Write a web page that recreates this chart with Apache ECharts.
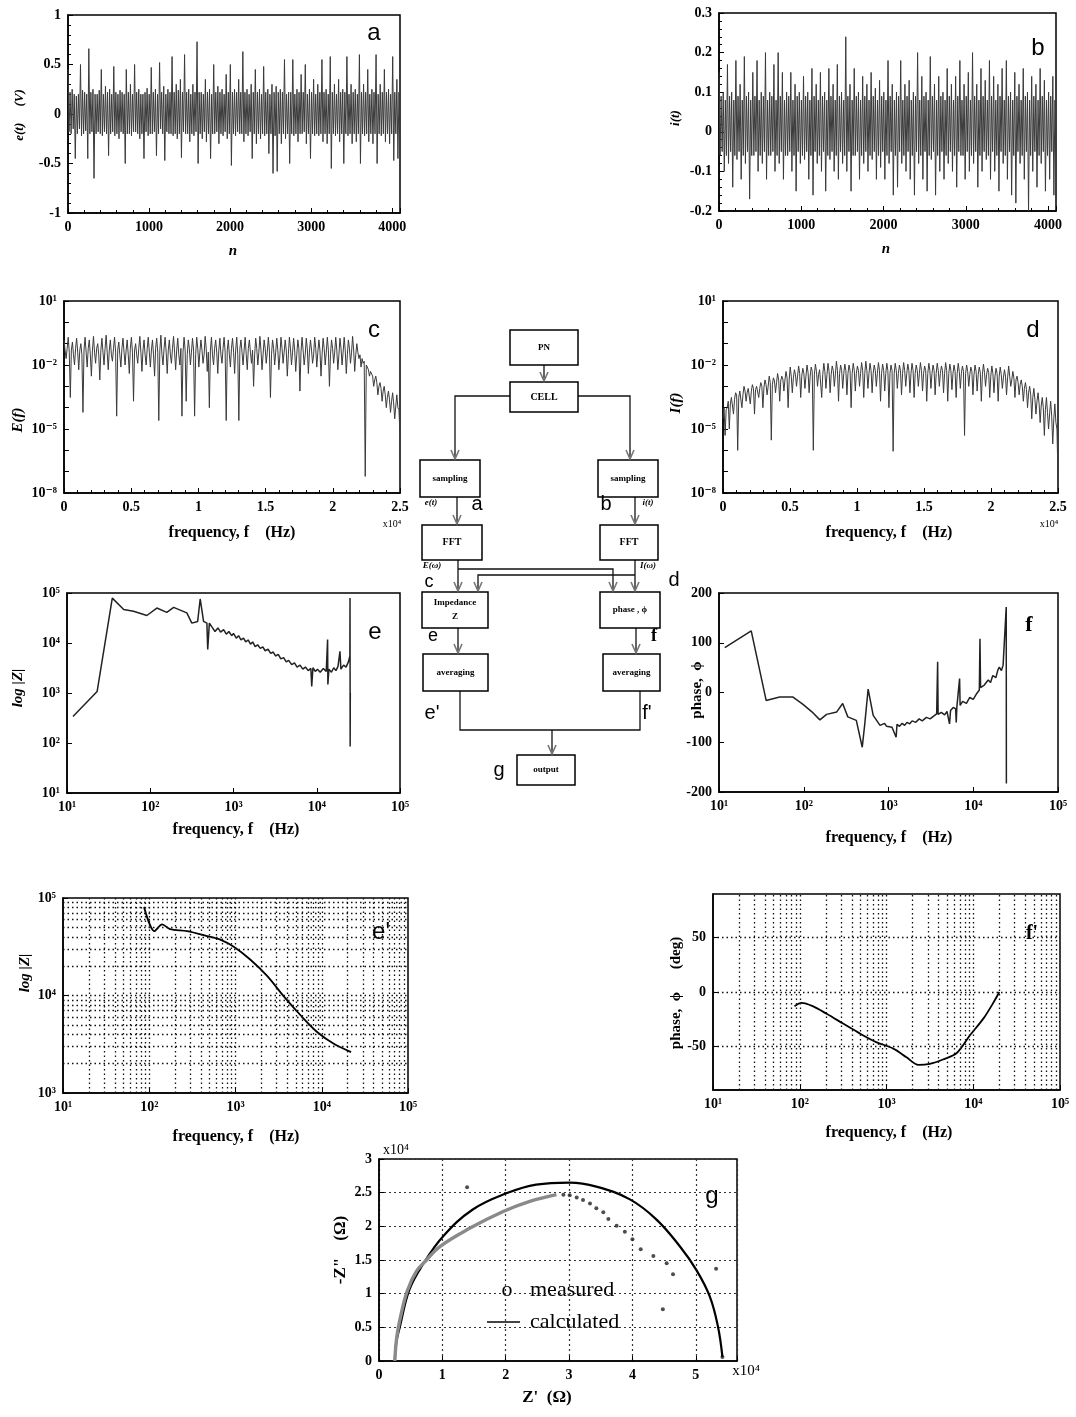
<!DOCTYPE html>
<html><head><meta charset="utf-8">
<script src="https://cdn.jsdelivr.net/npm/echarts@6/dist/echarts.min.js"></script>
<style>html,body{margin:0;padding:0;background:#fff}#c{width:1076px;height:1417px}</style>
</head><body><div id="c"></div><script>
// ---------------- DATA ----------------
const nMax = 4096;
// a: e(t) (V), samples evenly spread over n = 0..4096
const eT = [
0.45,-0.18,0.22,-0.2,0.25,-0.15,0.2,-0.45,0.18,-0.2,0.2,-0.15,0.5,-0.22,0.24,-0.2,0.22,-0.17,0.2,-0.45,
0.66,-0.2,0.22,-0.18,0.25,-0.65,0.2,-0.2,0.2,-0.18,0.24,-0.2,0.45,-0.22,0.2,-0.18,0.28,-0.2,0.22,-0.42,
0.25,-0.2,0.2,-0.18,0.48,-0.22,0.22,-0.2,0.2,-0.25,0.24,-0.18,0.22,-0.2,0.2,-0.5,0.45,-0.2,0.22,-0.2,
0.3,-0.22,0.2,-0.18,0.5,-0.18,0.22,-0.2,0.25,-0.25,0.2,-0.2,0.2,-0.45,0.22,-0.18,0.26,-0.22,0.2,-0.2,
0.47,-0.2,0.22,-0.18,0.25,-0.42,0.2,-0.2,0.52,-0.15,0.22,-0.2,0.28,-0.47,0.2,-0.18,0.25,-0.2,0.22,-0.2,
0.58,-0.22,0.22,-0.2,0.3,-0.25,0.24,-0.2,0.35,-0.44,0.22,-0.18,0.6,-0.2,0.22,-0.2,0.25,-0.28,0.2,-0.2,
0.3,-0.22,0.22,-0.18,0.73,-0.5,0.22,-0.2,0.22,-0.25,0.2,-0.18,0.35,-0.28,0.22,-0.2,0.25,-0.45,0.2,-0.2,
0.5,-0.2,0.22,-0.18,0.28,-0.3,0.22,-0.2,0.25,-0.22,0.2,-0.18,0.4,-0.25,0.22,-0.2,0.5,-0.52,0.22,-0.2,
0.25,-0.22,0.22,-0.18,0.35,-0.2,0.22,-0.2,0.63,-0.28,0.22,-0.2,0.25,-0.22,0.2,-0.18,0.3,-0.45,0.22,-0.2,
0.45,-0.3,0.22,-0.2,0.25,-0.25,0.2,-0.2,0.48,-0.22,0.22,-0.2,0.25,-0.4,0.2,-0.2,0.3,-0.6,0.22,-0.22,
0.28,-0.58,0.22,-0.2,0.25,-0.3,0.22,-0.2,0.55,-0.25,0.2,-0.2,0.22,-0.5,0.22,-0.2,0.55,-0.22,0.2,-0.2,
0.25,-0.28,0.22,-0.2,0.4,-0.2,0.22,-0.18,0.5,-0.3,0.2,-0.2,0.25,-0.45,0.22,-0.2,0.35,-0.22,0.2,-0.2,
0.3,-0.22,0.22,-0.2,0.55,-0.28,0.22,-0.2,0.25,-0.3,0.2,-0.2,0.58,-0.55,0.22,-0.2,0.3,-0.22,0.2,-0.2,
0.35,-0.28,0.22,-0.2,0.25,-0.5,0.22,-0.2,0.58,-0.22,0.2,-0.2,0.3,-0.3,0.22,-0.2,0.25,-0.28,0.2,-0.2,
0.6,-0.5,0.22,-0.2,0.3,-0.22,0.22,-0.2,0.45,-0.28,0.2,-0.2,0.25,-0.3,0.22,-0.2,0.6,-0.5,0.2,-0.2,
0.3,-0.22,0.22,-0.2,0.45,-0.28,0.22,-0.2,0.25,-0.3,0.2,-0.2,0.58,-0.47,0.22,-0.2,0.35,-0.45,0.22,-0.2];
// b: i(t)
const iT = [
0.15,-0.06,0.09,-0.05,0.1,-0.1,0.08,-0.06,0.17,-0.08,0.09,-0.05,0.1,-0.14,0.08,-0.06,0.18,-0.07,0.09,-0.05,
0.12,-0.12,0.08,-0.06,0.19,-0.08,0.09,-0.05,0.1,-0.17,0.08,-0.06,0.15,-0.06,0.09,-0.05,0.18,-0.1,0.08,-0.06,
0.1,-0.08,0.09,-0.05,0.2,-0.12,0.08,-0.06,0.1,-0.06,0.09,-0.05,0.17,-0.1,0.08,-0.06,0.2,-0.08,0.09,-0.05,
0.15,-0.12,0.08,-0.06,0.1,-0.06,0.09,-0.05,0.15,-0.1,0.08,-0.06,0.12,-0.15,0.09,-0.05,0.1,-0.08,0.08,-0.06,
0.14,-0.07,0.09,-0.05,0.1,-0.12,0.08,-0.06,0.16,-0.16,0.09,-0.05,0.12,-0.08,0.08,-0.06,0.15,-0.1,0.09,-0.05,
0.1,-0.15,0.08,-0.06,0.16,-0.07,0.09,-0.05,0.12,-0.1,0.08,-0.06,0.17,-0.12,0.09,-0.05,0.1,-0.08,0.08,-0.06,
0.24,-0.1,0.09,-0.05,0.12,-0.15,0.08,-0.06,0.16,-0.06,0.09,-0.05,0.1,-0.12,0.08,-0.06,0.14,-0.08,0.09,-0.05,
0.12,-0.1,0.08,-0.06,0.15,-0.07,0.09,-0.05,0.11,-0.12,0.08,-0.06,0.13,-0.09,0.09,-0.05,0.1,-0.12,0.08,-0.06,
0.18,-0.08,0.09,-0.05,0.12,-0.16,0.08,-0.06,0.1,-0.14,0.09,-0.05,0.18,-0.08,0.08,-0.06,0.12,-0.1,0.09,-0.05,
0.13,-0.12,0.08,-0.06,0.1,-0.16,0.09,-0.05,0.2,-0.08,0.08,-0.06,0.14,-0.12,0.09,-0.05,0.1,-0.15,0.08,-0.06,
0.19,-0.07,0.09,-0.05,0.12,-0.16,0.08,-0.06,0.14,-0.1,0.09,-0.05,0.1,-0.12,0.08,-0.06,0.16,-0.08,0.09,-0.05,
0.12,-0.1,0.08,-0.06,0.14,-0.14,0.09,-0.05,0.18,-0.06,0.08,-0.06,0.12,-0.12,0.09,-0.05,0.15,-0.1,0.08,-0.06,
0.2,-0.08,0.09,-0.05,0.12,-0.14,0.08,-0.06,0.16,-0.1,0.09,-0.05,0.13,-0.07,0.08,-0.06,0.18,-0.12,0.09,-0.05,
0.14,-0.1,0.08,-0.06,0.12,-0.15,0.09,-0.05,0.16,-0.08,0.08,-0.06,0.18,-0.12,0.09,-0.05,0.1,-0.16,0.08,-0.06,
0.15,-0.18,0.09,-0.05,0.12,-0.08,0.08,-0.06,0.16,-0.12,0.09,-0.05,0.1,-0.2,0.08,-0.06,0.14,-0.1,0.09,-0.05,
0.12,-0.14,0.08,-0.06,0.16,-0.08,0.09,-0.05,0.13,-0.15,0.08,-0.06,0.1,-0.12,0.09,-0.05,0.14,-0.16,0.08,-0.06];
const fSpecMax = 25000;
// c: |E(f)|, evenly spread over 0..25000 Hz
const Ef = [
0.15,0.05,0.02,0.06,0.2,0.04,3e-4,0.05,0.12,0.03,0.01,0.06,0.18,0.04,0.006,0.05,0.1,0.03,6e-5,0.05,
0.2,0.04,0.008,0.06,0.15,0.03,0.003,0.05,0.22,0.04,0.012,0.06,0.1,0.03,0.002,0.05,0.18,0.04,0.01,0.06,
0.25,0.04,0.006,0.05,0.15,0.03,0.015,0.06,0.2,0.04,4e-5,0.05,0.12,0.03,0.008,0.06,0.18,0.04,0.01,0.05,
0.15,0.03,0.004,0.06,0.2,0.04,2e-4,0.05,0.1,0.03,0.012,0.06,0.22,0.04,0.005,0.05,0.15,0.03,0.01,0.06,
0.2,0.04,0.008,0.05,0.15,0.03,0.003,0.06,0.18,0.04,2.5e-5,0.05,0.25,0.03,0.01,0.06,0.2,0.04,0.004,0.05,
0.15,0.03,0.012,0.06,0.22,0.04,0.006,0.05,0.18,0.03,0.01,0.06,4e-5,0.04,0.2,0.05,2e-4,0.03,0.15,0.06,
0.01,0.04,0.18,0.05,4e-5,0.03,0.2,0.06,0.008,0.04,0.15,0.05,0.012,0.03,0.22,0.06,0.005,0.04,1e-4,0.05,
0.2,0.03,0.01,0.06,0.15,0.04,0.004,0.05,0.18,0.03,0.012,0.06,0.2,0.04,2.5e-5,0.05,0.15,0.03,0.008,0.06,
0.18,0.04,0.004,0.05,0.2,0.03,2.5e-5,0.06,0.15,0.04,0.01,0.05,0.2,0.03,0.006,0.06,0.15,0.04,0.012,0.05,
0.001,0.03,0.18,0.06,0.01,0.04,0.22,0.05,0.006,0.03,0.15,0.06,0.012,0.04,0.2,0.05,3e-4,0.03,0.15,0.06,
0.01,0.04,0.18,0.05,0.006,0.03,0.2,0.06,0.012,0.04,0.15,0.05,0.003,0.03,0.2,0.06,0.01,0.04,0.18,0.05,
0.005,0.03,0.15,0.06,6e-4,0.04,0.2,0.05,0.01,0.03,0.18,0.06,0.004,0.04,0.15,0.05,0.012,0.03,0.2,0.06,
0.008,0.04,0.15,0.05,0.003,0.03,0.18,0.06,0.01,0.04,0.2,0.05,0.001,0.03,0.15,0.06,0.012,0.04,0.2,0.05,
0.006,0.03,0.18,0.06,0.01,0.04,0.2,0.05,0.004,0.03,0.15,0.06,0.012,0.04,0.22,0.05,0.005,0.03,0.1,0.04,
0.02,0.03,0.008,0.02,0.012,0.015,6e-8,0.01,0.008,0.006,0.003,0.005,0.005,0.003,0.001,0.002,0.003,0.0015,4e-4,0.001,
0.0015,8e-4,2e-4,6e-4,0.001,4e-4,1e-4,3e-4,6e-4,2.5e-4,6e-5,2e-4,5e-4,1.5e-4,3e-5,1.2e-4,4e-4,1e-4,8e-5,5e-6];
// d: |I(f)|
const If = [
3e-5,1e-4,5e-6,8e-5,1e-4,2e-4,1e-5,1.5e-4,3e-4,3e-4,5e-5,2.5e-4,5e-4,4e-4,1e-6,3e-4,6e-4,5e-4,1e-4,4e-4,
1e-3,6e-4,2e-4,5e-4,8e-4,7e-4,1.5e-4,6e-4,1.2e-3,8e-4,5e-5,7e-4,1e-3,9e-4,3e-4,8e-4,1.5e-3,1e-3,1e-4,9e-4,
2e-3,1.2e-3,4e-4,1e-3,3e-3,1.5e-3,3e-6,1.2e-3,2.5e-3,1.8e-3,5e-4,1.5e-3,4e-3,2e-3,2e-4,1.8e-3,3e-3,2.2e-3,6e-4,2e-3,
5e-3,2.5e-3,1e-4,2e-3,8e-3,3e-3,5e-4,2.5e-3,6e-3,3.5e-3,1e-3,3e-3,9e-3,4e-3,3e-4,3e-3,7e-3,4e-3,8e-4,3e-3,
1e-2,4.5e-3,5e-4,3e-3,8e-3,5e-3,1e-6,3.5e-3,1.1e-2,5e-3,1e-3,3.5e-3,6e-3,5e-3,3e-4,3.5e-3,1.2e-2,5e-3,8e-4,3.5e-3,
1.2e-2,5e-3,5e-4,3.5e-3,9e-3,5.5e-3,1e-3,3.5e-3,1.5e-2,5.5e-3,2e-4,4e-3,1e-2,5.5e-3,8e-4,4e-3,1.1e-2,5.5e-3,4e-4,4e-3,
1e-2,5.5e-3,1e-4,4e-3,1.2e-2,5.5e-3,6e-4,4e-3,9e-3,5.5e-3,1e-3,4e-3,1.3e-2,5.5e-3,3e-4,4e-3,1.5e-2,5.5e-3,8e-4,4e-3,
1.2e-2,5.5e-3,5e-4,4e-3,1e-2,5.5e-3,1e-3,4e-3,1.3e-2,5.5e-3,2e-4,4e-3,1.1e-2,5.5e-3,6e-4,4e-3,1.2e-2,5.5e-3,1e-4,4e-3,
1e-2,5.5e-3,9e-7,4e-3,1.2e-2,5.5e-3,8e-4,4e-3,1e-2,5.5e-3,4e-4,4e-3,1.3e-2,5.5e-3,1e-3,4e-3,1.1e-2,5.5e-3,5e-4,4e-3,
1.2e-2,5.5e-3,3e-4,4e-3,1e-2,5.5e-3,1e-3,4e-3,1.3e-2,5.5e-3,6e-4,4e-3,9e-3,5.5e-3,2e-4,4e-3,1.2e-2,5.5e-3,8e-4,4e-3,
1e-2,5.5e-3,4e-4,4e-3,1.2e-2,5.5e-3,1e-3,4e-3,9e-3,5.5e-3,5e-4,4e-3,1.3e-2,5.5e-3,2e-4,4e-3,1.1e-2,5.5e-3,7e-4,4e-3,
1e-2,5e-3,3e-4,4e-3,1.2e-2,5e-3,8e-4,4e-3,9e-3,5e-3,5e-6,4e-3,1e-2,5e-3,1e-3,3.5e-3,8e-3,5e-3,4e-4,3.5e-3,
1e-2,5e-3,6e-4,3.5e-3,8e-3,4.5e-3,2e-4,3.5e-3,1.1e-2,4.5e-3,1e-3,3.5e-3,7e-3,4.5e-3,3e-4,3e-3,9e-3,4e-3,5e-4,3e-3,
7e-3,4e-3,2e-4,3e-3,8e-3,3.5e-3,8e-4,2.5e-3,6e-3,3e-3,4e-4,2.5e-3,9e-3,3e-3,1e-3,2e-3,5e-3,2.5e-3,3e-4,2e-3,
3e-3,1.5e-3,4e-4,1.2e-3,2e-3,1e-3,2e-4,8e-4,1.5e-3,7e-4,1e-4,5e-4,1e-3,4e-4,3e-5,3e-4,8e-4,2.5e-4,5e-5,2e-4,
5e-4,1.5e-4,2e-5,1.2e-4,3e-4,1e-4,5e-6,8e-5,3e-4,6e-5,1e-5,5e-5,2e-4,4e-5,2e-6,3e-5,1.5e-4,2e-5,1e-5,5e-8];
// e: |Z| vs f [Hz, ohm]
const zRaw = [[11.8,340],[23,1070],[35,79000],[48,46800],[63,43000],[91,35500],[120,50000],[158,41000],[191,51700],[275,40000],[316,25000],[371,27000],[398,76000],[437,27000],[479,25000],[490,7400],[513,25000],
[550,21000],[600,17000],[650,20000],[700,16500],[760,18500],[820,15000],[880,17000],[950,14000],[1000,15500],[1080,12500],[1150,14000],[1230,11500],[1320,12500],[1400,10500],[1500,11500],[1600,9500],[1700,10500],[1820,8500],[1950,9200],[2100,7800],[2250,8400],[2400,7000],[2600,7500],[2800,6200],[3000,6600],[3200,5500],[3450,5900],[3700,4800],[4000,5100],[4300,4200],[4600,4500],[5000,3700],[5400,4000],[5800,3300],[6300,3600],[6800,3000],[7300,3300],[7900,2800],[8500,3100],[8700,1350],[9000,3200],[9600,2700],[10200,3000],[11000,2600],[12000,3100],[13000,2700],[13500,11700],[13600,1480],[14000,3000],[15000,2600],[16000,3200],[17000,2800],[18000,3400],[19000,6800],[19500,3000],[21000,3600],[22500,3300],[24000,4200],[25000,5500],[25100,79000],[25200,85],[25300,1000]];
// f: phase vs f [Hz, deg]
const phRaw = [[11.7,90],[24,124],[36,-16],[52,-9],[74,-9],[98,-24],[129,-41],[155,-55],[186,-44],[245,-39],[288,-22],[331,-49],[417,-56],[490,-110],[525,-63],[575,7],[660,-46],[794,-66],[900,-62],[950,-68],[1000,-65],[1100,-70],[1230,-90],[1260,-64],[1350,-68],[1450,-62],[1550,-66],[1650,-60],[1780,-63],[1900,-57],[2100,-60],[2300,-53],[2500,-57],[2800,-50],[3100,-53],[3500,-46],[3700,-43],[3800,62],[3850,-44],[4200,-40],[4600,-45],[4900,-38],[5250,-63],[5400,-36],[5800,-30],[6200,-33],[6300,-60],[6400,-30],[6900,28],[7000,-26],[7500,-18],[8300,-22],[9100,-10],[10000,-14],[11000,-2],[11800,5],[12000,108],[12200,10],[13500,15],[15000,25],[16000,20],[17000,34],[18500,30],[19500,45],[20300,51],[21500,44],[22500,55],[24500,172],[24600,-183]];
// e': averaged |Z|
const zAvg = [[87,81000],[115,45700],[141,53700],[174,47900],[275,45700],[468,40700],[676,37200],[955,31600],[1480,23400],[2340,15800],[3630,9800],[5750,6200],[8910,4200],[14100,3160],[21900,2630]];
// f': averaged phase
const phAvg = [[87,-13],[105,-10],[141,-13],[204,-20],[316,-29],[490,-38],[759,-46],[1200,-52],[1700,-60],[2340,-67],[3160,-66],[4470,-62],[6460,-56],[9120,-40],[13200,-24],[17000,-10],[20000,0]];
// g: Nyquist [Z', -Z''] in ohm
const nyqCalc = [[2500,0],[2700,2600],[3300,5100],[4800,10600],[6900,14300],[10100,18500],[14800,22500],[20100,24900],[24800,26200],[30100,26500],[34300,25900],[39600,24000],[43800,21000],[47500,17000],[50100,13500],[52200,9600],[53500,5100],[54200,600]];
const nyqMeasDense = [[2500,0],[2800,3500],[3500,7000],[4500,10500],[5900,13300],[7500,15000],[9600,17000],[14300,19700],[19600,22200],[23800,23700],[28000,24700]];
const nyqMeasDots = [[29100,24700],[30100,24600],[31200,24300],[32200,23900],[33300,23400],[34300,22700],[35400,22100],[36200,21100],[37500,20100],[38800,19200],[40000,18100],[41300,16600],[43300,15600],[45400,14500],[46400,12900],[44800,7700],[53200,13700],[54200,600],[13900,25800]];
// tick label lists
const specXLabels = ['0','0.5','1','1.5','2','2.5'];
const specYExps = [1,-2,-5,-8];
const logGridVals = [20,30,40,50,60,70,80,90,100,200,300,400,500,600,700,800,900,1000,2000,3000,4000,5000,6000,7000,8000,9000,10000,20000,30000,40000,50000,60000,70000,80000,90000];
const zAvgGridY = [2000,3000,4000,5000,6000,7000,8000,9000,10000,20000,30000,40000,50000,60000,70000,80000,90000];
const phAvgTicks = [-50,0,50];

// ---------------- HELPERS ----------------
const SERIF = '"Liberation Serif","DejaVu Serif",serif';
const SANS = '"Liberation Sans",Arial,sans-serif';
const SUP = {'-':'⁻','0':'⁰','1':'¹','2':'²','3':'³','4':'⁴','5':'⁵','6':'⁶','7':'⁷','8':'⁸','9':'⁹'};
function pow10(v){const e=Math.round(Math.log10(v));return '10'+String(e).split('').map(c=>SUP[c]).join('');}
function ax(gi, o, fmt, extra){
  const a = {gridIndex:gi, axisLine:{onZero:false, lineStyle:{color:'#000', width:1.5}},
    axisTick:{inside:true, length:5, lineStyle:{color:'#000'}},
    axisLabel:{color:'#000', fontFamily:SERIF, fontWeight:'bold', fontSize:14, margin:7, hideOverlap:false, showMinLabel:true, showMaxLabel:true},
    splitLine:{show:false}};
  if (fmt) a.axisLabel.formatter = fmt;
  Object.assign(a, o);
  if (extra) for (const k in extra) a[k] = Object.assign({}, a[k]||{}, extra[k]);
  return a;
}
const spread = (arr, max) => arr.map((v,i)=>[i*max/(arr.length-1), v]);
function txt(x,y,text,font,o){
  return Object.assign({type:'text', x, y, style:{text, font, fill:'#000', textAlign:'center', textVerticalAlign:'middle', align:'center', verticalAlign:'middle'}}, o||{});
}
function rtxt(x,y,text,font){ return txt(x,y,text,font,{rotation:Math.PI/2}); }

const grids = [
 {left:68, top:15, width:332, height:198},
 {left:719, top:13, width:337, height:198},
 {left:64, top:301, width:336, height:192},
 {left:723, top:301, width:335, height:192},
 {left:67, top:593, width:333, height:200},
 {left:719, top:593, width:339, height:199},
 {left:63, top:898, width:345, height:195},
 {left:713, top:894, width:347, height:196},
 {left:379, top:1159, width:358, height:202}
].map(g=>Object.assign({show:true, borderColor:'#000', borderWidth:1.5, outerBoundsMode:'none', containLabel:false}, g));

const num1 = v => String(Number(v.toFixed(2)));
const minor5 = {minorTick:{show:true, splitNumber:5, length:3, lineStyle:{color:'#000'}}};
const xAxes = [
 ax(0,{type:'value',min:0,max:nMax,interval:1000}, v=> v%1000===0? String(v):'', minor5),
 ax(1,{type:'value',min:0,max:nMax,interval:1000}, v=> v%1000===0? String(v):'', minor5),
 ax(2,{type:'value',min:0,max:fSpecMax,interval:5000}, v=> specXLabels[Math.round(v/5000)], minor5),
 ax(3,{type:'value',min:0,max:fSpecMax,interval:5000}, v=> specXLabels[Math.round(v/5000)], minor5),
 ax(4,{type:'log',logBase:10,min:10,max:1e5}, pow10),
 ax(5,{type:'log',logBase:10,min:10,max:1e5}, pow10),
 ax(6,{type:'log',logBase:10,min:10,max:1e5}, pow10),
 ax(7,{type:'log',logBase:10,min:10,max:1e5}, pow10),
 ax(8,{type:'value',min:0,max:56500,interval:10000}, v=> v%10000===0? String(v/10000):'',
    {splitLine:{show:true, lineStyle:{type:[2,3], color:'#333', width:1.2}}})
];
const yAxes = [
 ax(0,{type:'value',min:-1,max:1,interval:0.5}, num1, minor5),
 ax(1,{type:'value',min:-0.2,max:0.3,interval:0.1}, num1, minor5),
 ax(2,{type:'log',logBase:10,min:1e-8,max:10}, v=> specYExps.includes(Math.round(Math.log10(v)))? pow10(v):''),
 ax(3,{type:'log',logBase:10,min:1e-8,max:10}, v=> specYExps.includes(Math.round(Math.log10(v)))? pow10(v):''),
 ax(4,{type:'log',logBase:10,min:10,max:1e5}, pow10),
 ax(5,{type:'value',min:-200,max:200,interval:100}, v=>String(v)),
 ax(6,{type:'log',logBase:10,min:1000,max:1e5}, pow10),
 ax(7,{type:'value',min:-90,max:90}, v=>String(v), {axisLabel:{customValues:phAvgTicks}, axisTick:{customValues:phAvgTicks}}),
 ax(8,{type:'value',min:0,max:30000,interval:5000}, v=> num1(v/10000),
    {splitLine:{show:true, lineStyle:{type:[2,3], color:'#333', width:1.2}}})
];

const dotLine = {type:[1.5,3], color:'#111', width:1.3};
function ln(i, data, color, width, extra){
  return Object.assign({type:'line', xAxisIndex:i, yAxisIndex:i, data, showSymbol:false, symbol:'none', sampling:null,
    lineStyle:{color, width}, animation:false, silent:true, z:3}, extra||{});
}
const series = [
 ln(0, spread(eT,nMax), '#3a3a3a', 1),
 ln(1, spread(iT,nMax), '#3a3a3a', 1),
 ln(2, spread(Ef,fSpecMax), '#3a3a3a', 1),
 ln(3, spread(If,fSpecMax), '#3a3a3a', 1),
 ln(4, zRaw, '#222', 1.5),
 ln(5, phRaw, '#222', 1.5),
 ln(6, zAvg, '#000', 1.8, {smooth:0.3, markLine:{silent:true, symbol:'none', label:{show:false}, lineStyle:dotLine, animation:false,
    data: logGridVals.map(v=>({xAxis:v})).concat(zAvgGridY.map(v=>({yAxis:v})))}}),
 ln(7, phAvg, '#000', 1.8, {smooth:0.3, markLine:{silent:true, symbol:'none', label:{show:false}, lineStyle:dotLine, animation:false,
    data: logGridVals.map(v=>({xAxis:v})).concat(phAvgTicks.map(v=>({yAxis:v})))}}),
 ln(8, nyqCalc, '#000', 2.2, {smooth:0.4}),
 ln(8, nyqMeasDense, '#8a8a8a', 3.4, {smooth:0.4, z:4}),
 {type:'scatter', xAxisIndex:8, yAxisIndex:8, data:nyqMeasDots, symbol:'circle', symbolSize:4, itemStyle:{color:'#222'}, animation:false, silent:true}
];

// ---------------- TEXT & FLOWCHART ----------------
const F_NAME_I = 'italic bold 13px '+SERIF;
const F_PANEL = '24px '+SANS;
const g = [];
// axis names
g.push(rtxt(20,115,'e(t)     (V)', F_NAME_I));
g.push(rtxt(676,118,'i(t)', F_NAME_I));
g.push(rtxt(18,420,'E(f)', 'italic bold 15px '+SERIF));
g.push(rtxt(676,403,'I(f)', 'italic bold 15px '+SERIF));
g.push(rtxt(18,688,'log |Z|', 'italic bold 15px '+SERIF));
g.push(rtxt(697,690,'phase,  ϕ', 'bold 15px '+SERIF));
g.push(rtxt(25,973,'log |Z|', 'italic bold 15px '+SERIF));
g.push(rtxt(676,993,'phase,  ϕ      (deg)', 'bold 15px '+SERIF));
g.push(rtxt(341,1250,'-Z"    (Ω)', 'bold 17px '+SERIF));
g.push(txt(233,251,'n', 'italic bold 15px '+SERIF));
g.push(txt(886,249,'n', 'italic bold 15px '+SERIF));
[[232,533],[889,533],[236,830],[889,838],[236,1137],[889,1133]].forEach(p=>g.push(txt(p[0],p[1],'frequency, f    (Hz)','bold 16px '+SERIF)));
g.push(txt(547,1398,"Z'  (Ω)", 'bold 17px '+SERIF));
g.push(txt(392,524,'x10⁴', '10px '+SERIF));
g.push(txt(1049,524,'x10⁴', '10px '+SERIF));
g.push(txt(396,1150,'x10⁴', '14px '+SERIF));
g.push(txt(746,1371,'x10⁴', '15px '+SERIF));
// panel letters
g.push(txt(374,33,'a',F_PANEL)); g.push(txt(1038,48,'b',F_PANEL));
g.push(txt(374,330,'c',F_PANEL)); g.push(txt(1033,330,'d',F_PANEL));
g.push(txt(375,632,'e',F_PANEL)); g.push(txt(1029,625,'f','bold 22px '+SERIF));
g.push(txt(381,932,"e'",F_PANEL)); g.push(txt(1032,934,"f'",'bold 20px '+SERIF));
g.push(txt(712,1196,'g',F_PANEL));
// legend in g
g.push(txt(507,1290,'o','22px '+SERIF));
g.push({type:'text', x:530, y:1290, style:{text:'measured', font:'22px '+SERIF, fill:'#000', textVerticalAlign:'middle', verticalAlign:'middle'}});
g.push({type:'line', shape:{x1:487,y1:1322,x2:520,y2:1322}, style:{stroke:'#444', lineWidth:2}});
g.push({type:'text', x:530, y:1322, style:{text:'calculated', font:'22px '+SERIF, fill:'#000', textVerticalAlign:'middle', verticalAlign:'middle'}});
// flowchart
const boxStyle = {fill:'#fff', stroke:'#000', lineWidth:1.5};
const boxes = [
 [510,330,68,35,'PN'],[510,382,68,30,'CELL'],
 [420,460,60,37,'sampling'],[598,460,60,37,'sampling'],
 [422,525,60,35,'FFT'],[600,525,58,35,'FFT'],
 [422,592,66,36,'Impedance\nZ'],[600,592,60,36,'phase , ϕ'],
 [423,654,65,37,'averaging'],[603,654,57,37,'averaging'],
 [517,755,58,30,'output']];
const wires = [
 [[544,365],[544,382]],
 [[510,396],[455,396],[455,460]],
 [[578,396],[630,396],[630,460]],
 [[457,497],[457,525]],[[635,497],[635,525]],
 [[458,560],[458,592]],
 [[458,569],[613,569],[613,592]],
 [[635,575],[478,575],[478,592]],
 [[635,560],[635,592]],
 [[458,628],[458,654]],[[636,628],[636,654]],
 [[460,691],[460,730],[640,730],[640,691]],
 [[552,730],[552,755]]];
const arrows = [[544,382],[455,460],[630,460],[457,525],[635,525],[458,592],[613,592],[478,592],[635,592],[458,654],[636,654],[552,755]];
wires.forEach(w=>g.push({type:'polyline', shape:{points:w}, style:{stroke:'#111', lineWidth:1.3, fill:null}}));
arrows.forEach(a=>g.push({type:'polyline', shape:{points:[[a[0]-4,a[1]-10],[a[0],a[1]-1],[a[0]+4,a[1]-10]]}, style:{stroke:'#777', lineWidth:1.6, fill:null}, z:10}));
boxes.forEach(b=>{
  const f = (b[4]==='CELL'||b[4]==='FFT'?'bold 10px ':'bold 9px ')+SERIF;
  g.push({type:'rect', shape:{x:b[0],y:b[1],width:b[2],height:b[3]}, style:boxStyle, z:5});
  g.push({type:'text', x:b[0]+b[2]/2, y:b[1]+b[3]/2, z:6, style:{text:b[4], font:f, fill:'#000', textAlign:'center', textVerticalAlign:'middle', align:'center', verticalAlign:'middle', lineHeight:14}});
});
const fl = [[431,503,'e(t)','italic bold 9px '+SERIF],[477,504,'a','20px '+SANS],[606,504,'b','20px '+SANS],[648,503,'i(t)','italic bold 9px '+SERIF],
 [432,566,'E(ω)','italic bold 9px '+SERIF],[429,582,'c','18px '+SANS],[648,566,'I(ω)','italic bold 9px '+SERIF],[674,580,'d','20px '+SANS],
 [433,636,'e','18px '+SANS],[654,636,'f','bold 18px '+SERIF],[432,713,"e'",'20px '+SANS],[647,713,"f'",'20px '+SANS],[499,770,'g','20px '+SANS]];
fl.forEach(t=>g.push(Object.assign(txt(t[0],t[1],t[2],t[3]),{z:12})));

const chart = echarts.init(document.getElementById('c'), null, {renderer:'canvas'});
chart.setOption({
  animation:false, backgroundColor:'#fff',
  textStyle:{fontFamily:SERIF},
  grid:grids, xAxis:xAxes, yAxis:yAxes, series, graphic:{elements:g}
});
</script></body></html>
